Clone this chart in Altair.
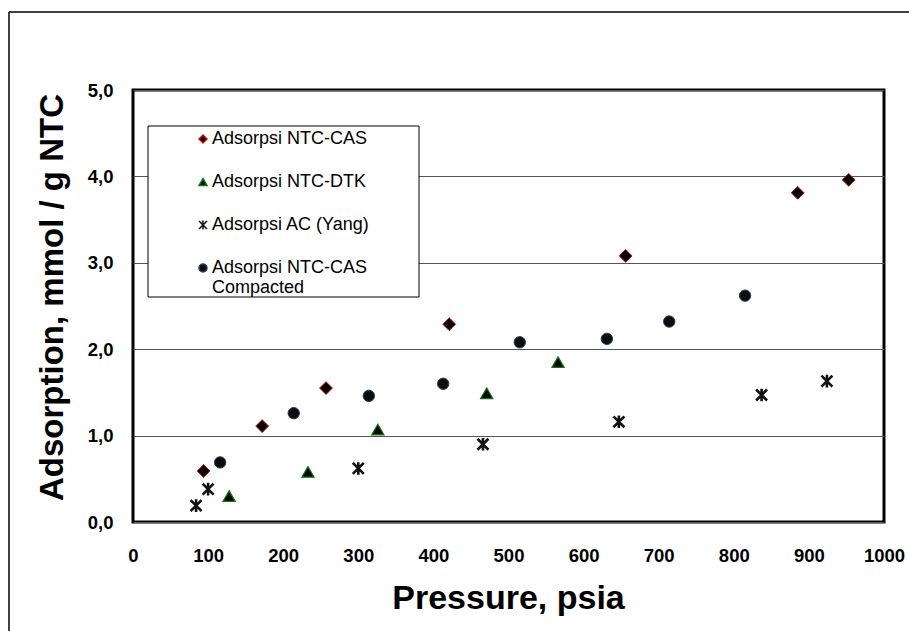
import altair as alt
import pandas as pd

# ---------------- data ----------------
series_names = [
    "Adsorpsi NTC-CAS",
    "Adsorpsi NTC-DTK",
    "Adsorpsi AC (Yang)",
    "Adsorpsi NTC-CAS Compacted",
]

cas_p = [94, 172, 257, 421, 656, 885, 953]
cas_q = [0.59, 1.11, 1.55, 2.29, 3.08, 3.81, 3.96]

dtk_p = [128, 233, 326, 471, 566]
dtk_q = [0.30, 0.58, 1.07, 1.49, 1.85]

yang_p = [84, 100, 300, 466, 647, 837, 924]
yang_q = [0.19, 0.38, 0.62, 0.90, 1.16, 1.47, 1.63]

comp_p = [116, 214, 314, 413, 515, 631, 714, 815]
comp_q = [0.69, 1.26, 1.46, 1.60, 2.08, 2.12, 2.32, 2.62]

x_ticks = [0, 100, 200, 300, 400, 500, 600, 700, 800, 900, 1000]
y_ticks = [0, 1, 2, 3, 4, 5]

rows = []
for name, ps, qs in zip(series_names,
                        [cas_p, dtk_p, yang_p, comp_p],
                        [cas_q, dtk_q, yang_q, comp_q]):
    for p, q in zip(ps, qs):
        rows.append({"series": name, "p": p, "q": q})
df = pd.DataFrame(rows)

# ---------------- styles ----------------
FONT = "Liberation Sans"
asterisk = "M-1,-1L1,1M1,-1L-1,1M0,-1.15L0,1.15"
shapes = ["diamond", "triangle-up", asterisk, "circle"]
fills = ["#000000", "#000000", "#000000", "#0d0d0d"]
strokes = ["#d01010", "#0a7a0a", "#111111", "#2b3f66"]
sizes = [165, 150, 120, 130]
widths = [1, 1.2, 2.6, 1]

dom = series_names

leg = alt.Legend(
    title=None,
    labelExpr="datum.label == 'Adsorpsi NTC-CAS Compacted' ? 'Adsorpsi NTC-CAS' : datum.label",
)

x_enc = alt.X("p:Q", scale=alt.Scale(domain=[0, 1000], nice=False),
              axis=alt.Axis(values=x_ticks, format="d", grid=False, domain=False,
                            ticks=False, tickSize=0, labelPadding=24,
                            labelFontSize=18.5, labelFontWeight="bold",
                            labelFlush=False, labelOverlap=False,
                            title="Pressure, psia", titleFontSize=34,
                            titleFontWeight="bold", titleX=375, titleY=86,
                            titleAlign="center", titleBaseline="alphabetic"))
y_enc = alt.Y("q:Q", scale=alt.Scale(domain=[0, 5], nice=False),
              axis=alt.Axis(values=y_ticks,
                            labelExpr="replace(format(datum.value, '.1f'), '.', ',')",
                            grid=True, gridColor="#555555", gridWidth=1,
                            domain=False, ticks=False, tickSize=0,
                            labelPadding=20, labelFontSize=18.5,
                            labelFontWeight="bold",
                            title="Adsorption, mmol / g NTC", titleFontSize=33,
                            titleFontWeight="bold", titleX=-71, titleY=207,
                            titleAngle=270, titleAlign="center",
                            titleBaseline="alphabetic"))

layers_pts = []
for name, sz, sw in zip(series_names, sizes, widths):
    layers_pts.append(
        alt.Chart(df).transform_filter(alt.datum.series == name)
        .mark_point(opacity=1, size=sz, strokeWidth=sw)
        .encode(
            x=x_enc, y=y_enc,
            shape=alt.Shape("series:N", scale=alt.Scale(domain=dom, range=shapes), legend=leg),
            fill=alt.Fill("series:N", scale=alt.Scale(domain=dom, range=fills), legend=leg),
            stroke=alt.Stroke("series:N", scale=alt.Scale(domain=dom, range=strokes), legend=leg),
        )
    )

one = pd.DataFrame({"k": [0]})

legend_box = alt.Chart(one).mark_rect(fill="white", stroke="black", strokeWidth=1).encode(
    x=alt.value(15), x2=alt.value(286), y=alt.value(36), y2=alt.value(207)
)

compacted = alt.Chart(one).mark_text(
    align="left", baseline="middle", font=FONT, fontSize=18, color="black"
).encode(x=alt.value(79), y=alt.value(198), text=alt.value("Compacted"))

frame_h = alt.Chart(one).mark_rule(color="black", strokeWidth=1.5).encode(
    x=alt.value(-124), x2=alt.value(776), y=alt.value(-78)
)
frame_v = alt.Chart(one).mark_rule(color="black", strokeWidth=1.5).encode(
    x=alt.value(-124), y=alt.value(-78), y2=alt.value(541)
)

chart = alt.layer(frame_h, frame_v, legend_box, *layers_pts, compacted).properties(
    width=751,
    height=432,
    autosize=alt.AutoSizeParams(type="none"),
    padding={"left": 133, "top": 90, "right": 25, "bottom": 109},
    background="white",
).configure_view(
    stroke="black", strokeWidth=3
).configure_axis(
    labelFont=FONT, titleFont=FONT, labelColor="black", titleColor="black"
).configure_legend(
    orient="none", legendX=61, legendY=40, padding=0,
    labelFont=FONT, labelFontSize=18, labelColor="black",
    symbolSize=64, symbolStrokeWidth=1.5, rowPadding=25, labelOffset=0,
    labelLimit=0, zindex=5,
)

chart.save("out.html", embed_options={"renderer": "svg", "actions": False})
